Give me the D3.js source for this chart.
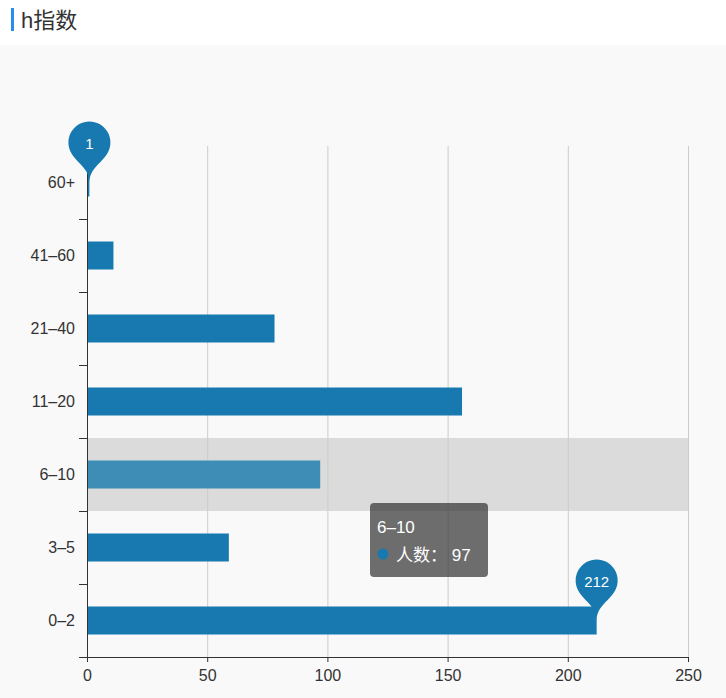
<!DOCTYPE html>
<html>
<head>
<meta charset="utf-8">
<script src="https://cdn.jsdelivr.net/npm/d3@7/dist/d3.min.js"></script>
<style>
  body { margin: 0; background: #fff; }
  #chart { width: 726px; height: 698px; }
  text { font-family: "Liberation Sans", "Noto Sans CJK SC", sans-serif; }
</style>
</head>
<body>
<div id="chart"></div>
<script>
const categories = ["0–2", "3–5", "6–10", "11–20", "21–40", "41–60", "60+"];
const counts = [212, 59, 97, 156, 78, 11, 1];
const xTicks = [0, 50, 100, 150, 200, 250];
const hovered = "6–10";
const seriesName = "人数";

const width = 726, height = 698;
const plotLeft = 87, plotRight = 688, plotTop = 146, plotBottom = 657;
const barColor = "#1779af";

const svg = d3.select("#chart").append("svg")
    .attr("width", width)
    .attr("height", height);

svg.append("rect")
    .attr("x", 0).attr("y", 45)
    .attr("width", width).attr("height", height - 45)
    .style("fill", "#f9f9f9");

// title
svg.append("rect")
    .attr("x", 11).attr("y", 8)
    .attr("width", 3).attr("height", 23)
    .style("fill", "#2b8cf0");
svg.append("text")
    .attr("x", 21).attr("y", 28)
    .style("font-size", "22px")
    .style("fill", "#333")
    .text("h指数");

let x = d3.scaleLinear().domain([0, 250]).range([plotLeft, plotRight]);
let y = d3.scaleBand().domain(categories).range([plotBottom, plotTop]);
const barH = 28;

// hover shadow
svg.append("rect")
    .attr("x", plotLeft)
    .attr("y", y(hovered))
    .attr("width", plotRight - plotLeft)
    .attr("height", y.bandwidth())
    .style("fill", "#dbdbdb");

// grid
svg.selectAll(".grid")
    .data(xTicks.slice(1))
    .enter().append("line")
    .attr("x1", d => x(d) + 0.5).attr("x2", d => x(d) + 0.5)
    .attr("y1", plotTop).attr("y2", plotBottom)
    .style("stroke", "#ccc")
    .style("stroke-width", 1);

// bars
svg.selectAll(".bar")
    .data(categories)
    .enter().append("rect")
    .attr("x", plotLeft)
    .attr("y", d => y(d) + y.bandwidth() / 2 - barH / 2)
    .attr("width", (d, i) => x(counts[i]) - plotLeft)
    .attr("height", barH)
    .style("fill", d => d === hovered ? "#3e8db6" : barColor);

// axes
let xAxis = svg.append("g")
    .attr("transform", `translate(0,${plotBottom})`)
    .call(d3.axisBottom(x).tickValues(xTicks).tickSize(5).tickPadding(8));
xAxis.select(".domain").attr("d", `M${plotLeft - 8},0.5H${plotRight}`);

let yAxis = svg.append("g")
    .attr("transform", `translate(${plotLeft},0)`)
    .call(d3.axisLeft(y).tickSize(0).tickPadding(12));
yAxis.select(".domain").attr("d", `M0.5,${plotTop}V${plotBottom}`);
svg.selectAll(".ytick")
    .data(categories)
    .enter().append("line")
    .attr("x1", plotLeft - 8).attr("x2", plotLeft)
    .attr("y1", d => y(d) + 0.5).attr("y2", d => y(d) + 0.5)
    .style("stroke", "#333");

svg.selectAll(".domain, .tick line").style("stroke", "#333");
svg.selectAll(".tick text")
    .style("font-size", "16px")
    .style("fill", "#333")
    .style("font-family", "'Liberation Sans', 'Noto Sans CJK SC', sans-serif");

// mark points (max & min)
function pinPath(px, py) {
    const W = 70, H = 70;
    const w = W / 5 * 3, h = Math.max(w, H);
    const r = w / 2;
    const dy = r * r / (h - r);
    const cy = py - h + r + dy;
    const angle = Math.asin(dy / r);
    const dx = Math.cos(angle) * r;
    const tanX = Math.sin(angle), tanY = Math.cos(angle);
    const cpLen = r * 0.6, cpLen2 = r * 0.7;
    const p = d3.path();
    p.moveTo(px - dx, cy + dy);
    p.arc(px, cy, r, Math.PI - angle, Math.PI * 2 + angle);
    p.bezierCurveTo(px + dx - tanX * cpLen, cy + dy + tanY * cpLen, px, py - cpLen2, px, py);
    p.bezierCurveTo(px, py - cpLen2, px - dx + tanX * cpLen, cy + dy + tanY * cpLen, px - dx, cy + dy);
    p.closePath();
    return { d: p.toString(), cy: cy };
}

const maxI = counts.indexOf(d3.max(counts));
const minI = counts.indexOf(d3.min(counts));
[maxI, minI].forEach(i => {
    const px = x(counts[i]);
    const py = y(categories[i]) + y.bandwidth() / 2;
    const pin = pinPath(px, py);
    svg.append("path").attr("d", pin.d).style("fill", barColor);
    svg.append("text")
        .attr("x", px).attr("y", pin.cy + 6)
        .attr("text-anchor", "middle")
        .style("font-size", "15px")
        .style("fill", "#fff")
        .text(counts[i]);
});

// tooltip
const tip = svg.append("g").attr("transform", "translate(370,503)");
tip.append("rect")
    .attr("width", 118).attr("height", 74)
    .attr("rx", 4)
    .style("fill", "rgba(50,50,50,0.7)");
tip.append("text")
    .attr("x", 7).attr("y", 30)
    .style("font-size", "17px")
    .style("fill", "#fff")
    .text(hovered);
tip.append("circle")
    .attr("cx", 13).attr("cy", 51).attr("r", 5.5)
    .style("fill", barColor);
tip.append("text")
    .attr("x", 26).attr("y", 58)
    .style("font-size", "17px")
    .style("fill", "#fff")
    .text(`${seriesName}： ${counts[categories.indexOf(hovered)]}`);
</script>
</body>
</html>
